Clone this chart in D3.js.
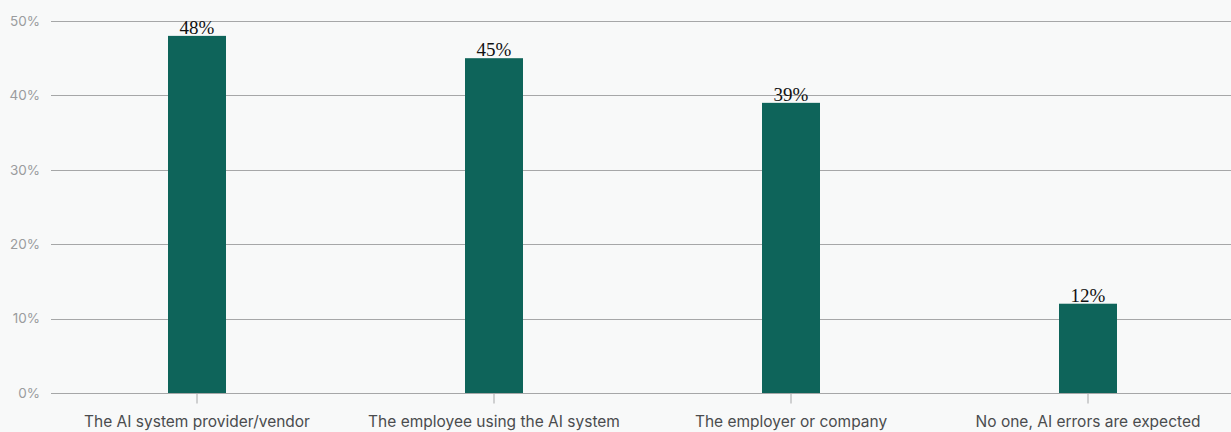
<!DOCTYPE html>
<html>
<head>
<meta charset="utf-8">
<script src="https://cdn.jsdelivr.net/npm/d3@7"></script>
<style>
  body { margin: 0; background: #f8f9f9; }
  svg { display: block; }
</style>
</head>
<body>
<script>
var categories = ["The AI system provider/vendor", "The employee using the AI system", "The employer or company", "No one, AI errors are expected"];
var values = [48, 45, 39, 12];
var yTicks = [0, 10, 20, 30, 40, 50];

var width = 1231, height = 432;
var margin = {top: 21, right: 0, bottom: 39, left: 51};

var svg = d3.select("body").append("svg")
    .attr("width", width)
    .attr("height", height);

svg.append("rect")
    .attr("width", width)
    .attr("height", height)
    .attr("fill", "#f8f9f9");

var x = d3.scaleBand()
    .domain(categories)
    .range([48.5, 1236.5])
    .padding(0);

var barW = 58;

var y = d3.scaleLinear()
    .domain([0, 50])
    .range([height - margin.bottom, margin.top]);

// grid lines
svg.append("g")
    .selectAll("line")
    .data(yTicks)
    .join("line")
    .attr("x1", margin.left)
    .attr("x2", width)
    .attr("y1", function(d) { return Math.round(y(d)) + 0.5; })
    .attr("y2", function(d) { return Math.round(y(d)) + 0.5; })
    .attr("stroke", "#a6a7a8")
    .attr("stroke-width", 1);

// y labels
svg.append("g")
    .selectAll("text")
    .data(yTicks)
    .join("text")
    .attr("x", 40)
    .attr("y", function(d) { return y(d); })
    .attr("dy", "0.35em")
    .attr("text-anchor", "end")
    .attr("font-family", "Inter, 'Noto Sans', sans-serif")
    .attr("font-size", 13.5)
    .attr("fill", "#9a9c9e")
    .text(function(d) { return d + "%"; });

// bars
svg.append("g")
    .selectAll("rect")
    .data(values)
    .join("rect")
    .attr("x", function(d, i) { return x(categories[i]) + x.bandwidth() / 2 - barW / 2; })
    .attr("y", function(d) { return y(d); })
    .attr("width", barW)
    .attr("height", function(d) { return y(0) - y(d); })
    .attr("fill", "#0e645a");

// value labels
svg.append("g")
    .selectAll("text")
    .data(values)
    .join("text")
    .attr("x", function(d, i) { return x(categories[i]) + x.bandwidth() / 2; })
    .attr("y", function(d) { return y(d) - 2; })
    .attr("text-anchor", "middle")
    .attr("font-family", "'Liberation Serif', 'Times New Roman', serif")
    .attr("font-size", 19)
    .attr("fill", "#111")
    .text(function(d) { return d + "%"; });

// x axis ticks + labels
var xa = svg.append("g")
    .attr("transform", "translate(0," + (Math.round(y(0)) + 0.5) + ")")
    .call(d3.axisBottom(x).tickSize(10).tickSizeOuter(0).tickPadding(12));

xa.select(".domain").remove();
xa.selectAll(".tick line").attr("stroke", "#a6a7a8");
xa.selectAll(".tick text")
    .attr("font-family", "Inter, 'Noto Sans', sans-serif")
    .attr("font-size", 15.5)
    .attr("fill", "#4a4c4e");
</script>
</body>
</html>
